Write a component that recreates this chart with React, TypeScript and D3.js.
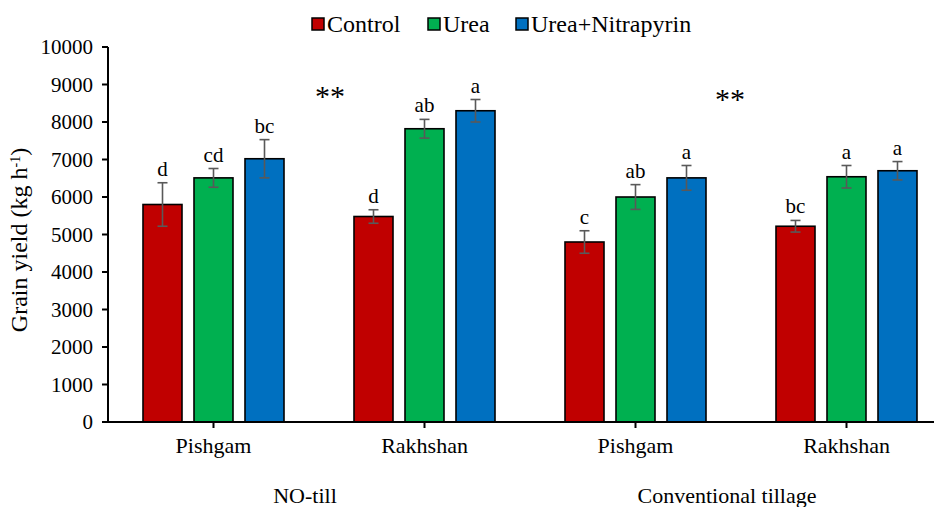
import React from 'react';
import * as d3 from 'd3';

const categories = ['NT-Pishgam', 'NT-Rakhshan', 'CT-Pishgam', 'CT-Rakhshan'];
const categoryLabels = ['Pishgam', 'Rakhshan', 'Pishgam', 'Rakhshan'];
const groupLabels = ['NO-till', 'Conventional tillage'];
const seriesNames = ['Control', 'Urea', 'Urea+Nitrapyrin'];
const seriesColors = ['#C00000', '#00B050', '#0070C0'];

const controlValues = [5800, 5480, 4800, 5220];
const ureaValues = [6510, 7820, 6000, 6540];
const nitrapyrinValues = [7020, 8300, 6510, 6700];

const controlErr = [580, 180, 300, 155];
const ureaErr = [250, 250, 330, 300];
const nitrapyrinErr = [510, 300, 330, 245];

const controlLetters = ['d', 'd', 'c', 'bc'];
const ureaLetters = ['cd', 'ab', 'ab', 'a'];
const nitrapyrinLetters = ['bc', 'a', 'a', 'a'];

const yTicks = [0, 1000, 2000, 3000, 4000, 5000, 6000, 7000, 8000, 9000, 10000];

const W = 934;
const H = 507;
const FONT = "'Liberation Serif'";

const margin = { top: 47, right: 0, bottom: 85, left: 108 };
const y = d3.scaleLinear().domain([0, 10000]).range([H - margin.bottom, margin.top]);
const x = d3.scaleBand().domain(categories).range([margin.left, 952]).padding(0);

const values = [controlValues, ureaValues, nitrapyrinValues];
const errs = [controlErr, ureaErr, nitrapyrinErr];
const letters = [controlLetters, ureaLetters, nitrapyrinLetters];

const barW = 39;
const offsets = [-51, 0, 51];
const center = (c: string) => (x(c) as number) + x.bandwidth() / 2;

export default function App() {
  const groupX = [
    (center(categories[0]) + center(categories[1])) / 2 - 14,
    (center(categories[2]) + center(categories[3])) / 2 - 14,
  ];
  const legendX = [312, 428, 516];

  return (
    <svg
      width={W}
      height={H}
      style={{ position: 'absolute', left: 0, top: 0, background: '#fff', fontFamily: FONT }}
    >
      {/* bars */}
      {seriesNames.map((name, si) => (
        <g key={name}>
          {categories.map((c, i) => (
            <rect
              key={c}
              x={center(c) + offsets[si] - barW / 2}
              y={y(values[si][i])}
              width={barW}
              height={y(0) - y(values[si][i])}
              fill={seriesColors[si]}
              stroke="#000"
              strokeWidth={1.6}
            />
          ))}
        </g>
      ))}

      {/* error bars + letters */}
      {seriesNames.map((name, si) => (
        <g key={name + '-err'}>
          {categories.map((c, i) => {
            const cx = center(c) + offsets[si];
            const hi = y(values[si][i] + errs[si][i]);
            const lo = y(values[si][i] - errs[si][i]);
            return (
              <g key={c}>
                <g stroke="#595959" strokeWidth={1.6}>
                  <line x1={cx} x2={cx} y1={hi} y2={lo} />
                  <line x1={cx - 5} x2={cx + 5} y1={hi} y2={hi} />
                  <line x1={cx - 5} x2={cx + 5} y1={lo} y2={lo} />
                </g>
                <text x={cx} y={hi - 7} textAnchor="middle" fontSize={21} fill="#000">
                  {letters[si][i]}
                </text>
              </g>
            );
          })}
        </g>
      ))}

      {/* y axis */}
      <g>
        <line x1={margin.left} x2={margin.left} y1={y(10000)} y2={y(0)} stroke="#000" strokeWidth={2} />
        {yTicks.map((t) => (
          <g key={t} transform={`translate(0,${y(t)})`}>
            <line x1={margin.left - 6} x2={margin.left} stroke="#000" strokeWidth={2} />
            <text x={margin.left - 15} dy="0.34em" textAnchor="end" fontSize={21} fill="#000">
              {t}
            </text>
          </g>
        ))}
      </g>

      {/* x axis */}
      <g transform={`translate(0,${y(0)})`}>
        <line x1={margin.left - 4} x2={W} stroke="#000" strokeWidth={2} />
        {categories.map((c, i) => (
          <g key={c} transform={`translate(${center(c)},0)`}>
            <line y1={0} y2={6} stroke="#000" strokeWidth={2} />
            <text y={31} textAnchor="middle" fontSize={22} fill="#000">
              {categoryLabels[i]}
            </text>
          </g>
        ))}
      </g>

      {/* group labels */}
      {groupLabels.map((g, i) => (
        <text key={g} x={groupX[i]} y={503} textAnchor="middle" fontSize={22} fill="#000">
          {g}
        </text>
      ))}

      {/* significance stars */}
      {[[330, 106], [730, 109]].map(([sx, sy], i) => (
        <text key={i} x={sx} y={sy} textAnchor="middle" fontSize={30} fill="#000">
          **
        </text>
      ))}

      {/* y title */}
      <text
        transform={`translate(27,240) rotate(-90)`}
        textAnchor="middle"
        fontSize={24}
        fill="#000"
      >
        <tspan>Grain yield (kg h</tspan>
        <tspan baselineShift="super" fontSize={14}>-1</tspan>
        <tspan>)</tspan>
      </text>

      {/* legend */}
      {seriesNames.map((name, i) => (
        <g key={name + '-lg'}>
          <rect
            x={legendX[i]}
            y={18}
            width={12}
            height={12}
            fill={seriesColors[i]}
            stroke="#000"
            strokeWidth={1.5}
          />
          <text x={legendX[i] + 15} y={32} fontSize={24} fill="#000">
            {name}
          </text>
        </g>
      ))}
    </svg>
  );
}
